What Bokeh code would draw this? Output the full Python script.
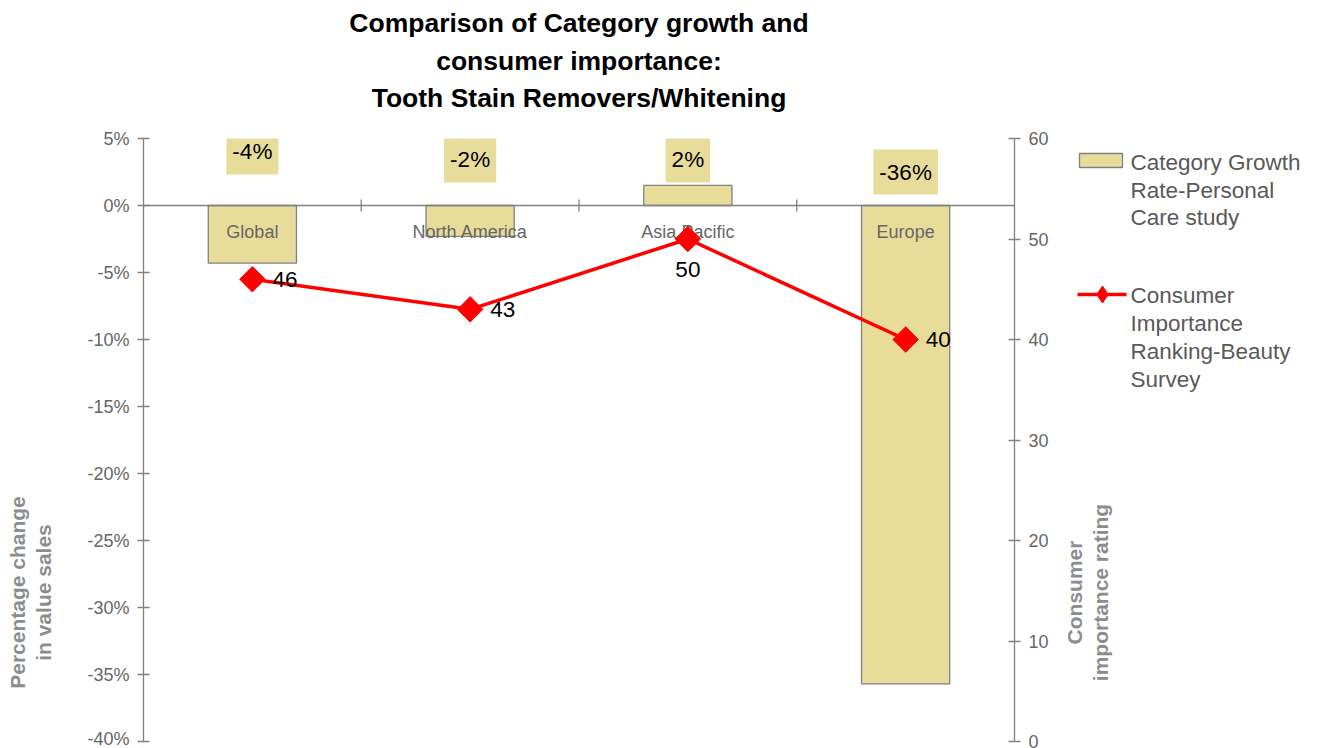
import math
from bokeh.plotting import figure
from bokeh.layouts import row, column
from bokeh.models import (Range1d, LinearAxis, Span, Label, FixedTicker,
                          CustomJSTickFormatter)
from bokeh.embed import file_html
from bokeh.resources import INLINE
from bokeh.core.properties import value

# ---- data ----
categories = ["Global", "North America", "Asia Pacific", "Europe"]
growth = [-4.3, -2.3, 1.5, -35.7]                 # % change in value sales
growth_labels = ["-4%", "-2%", "2%", "-36%"]
importance = [46, 43, 50, 40]                     # consumer importance rating
left_ticks = [-40, -35, -30, -25, -20, -15, -10, -5, 0, 5]
right_ticks = [0, 10, 20, 30, 40, 50, 60]
title_lines = ["Comparison of Category growth and", "consumer importance:",
               "Tooth Stain Removers/Whitening"]
legend_bar = ["Category Growth", "Rate-Personal", "Care study"]
legend_line = ["Consumer", "Importance", "Ranking-Beauty", "Survey"]
left_label = "Percentage change\nin value sales"
right_label = "Consumer\nimportance rating"

# ---- layout / style constants (page pixels) ----
FONT = "Liberation Sans"
BAR = "#E8DC9B"
GREY = "#808080"
TXT = "#666666"
W, H = 1317, 748
TOP_H = 128                      # title strip height
LEFT_W = 60                      # left strip (axis title)
MAIN_W = 994                     # main chart figure
RIGHT_W = W - LEFT_W - MAIN_W    # right strip (axis title + legend)
ROW_H = H - TOP_H
FRAME_L, FRAME_R = 143, 1014
FRAME_T, FRAME_B = 138, 741
growth_label_y = [4.0, 3.4, 3.4, 2.5]             # label box positions (%)
line_label_off = [(20, 0, "left"), (20, 0, "left"), (0, -30, "center"), (20, 0, "left")]


def blank(width, height, x0, x1, y0, y1):
    f = figure(width=width, height=height, x_range=Range1d(x0, x1),
               y_range=Range1d(y1, y0), output_backend="svg", toolbar_location=None,
               x_axis_location=None, y_axis_location=None, title=None,
               min_border=0, outline_line_color=None)
    f.grid.visible = False
    return f


# ---------------- title strip ----------------
pt = blank(W, TOP_H, 0, W, 0, TOP_H)
pt.text(x=[(FRAME_L + FRAME_R) / 2] * 3, y=[22, 60, 97], text=title_lines,
        text_align="center", text_baseline="middle", text_font=value(FONT),
        text_font_size="26.5px", text_font_style="bold", text_color="black")

# ---------------- left strip (frame aligned with the main frame) ----------------
pl = blank(LEFT_W, ROW_H, 0, LEFT_W, FRAME_T, FRAME_B)
pl.text(x=[30], y=[592], text=[left_label], angle=math.pi / 2, text_align="center",
        text_baseline="middle", text_font=value(FONT), text_font_size="21px",
        text_font_style="bold", text_color="#8c8c8c", text_line_height=1.15)

# ---------------- main chart ----------------
xs = [i + 0.5 for i in range(len(categories))]
p = figure(width=MAIN_W, height=ROW_H, x_range=Range1d(0, len(categories)),
           y_range=Range1d(left_ticks[0], left_ticks[-1]),
           output_backend="svg", toolbar_location=None, title=None,
           x_axis_location=None, y_axis_location=None,
           min_border_left=FRAME_L - LEFT_W, min_border_right=LEFT_W + MAIN_W - FRAME_R,
           min_border_top=FRAME_T - TOP_H, min_border_bottom=H - FRAME_B,
           outline_line_color=None)
p.grid.visible = False
p.extra_y_ranges = {"r": Range1d(right_ticks[0], right_ticks[-1])}


def style_axis(ax):
    ax.axis_line_color = GREY
    ax.axis_line_width = 1.3
    ax.major_tick_line_color = GREY
    ax.major_tick_line_width = 1.3
    ax.major_tick_in = 6
    ax.major_tick_out = 6
    ax.minor_tick_line_color = None
    ax.major_label_text_font = FONT
    ax.major_label_text_font_size = "18px"
    ax.major_label_text_color = TXT
    ax.major_label_standoff = 8


yl = LinearAxis(ticker=FixedTicker(ticks=left_ticks),
                formatter=CustomJSTickFormatter(code="return tick + '%';"))
style_axis(yl)
p.add_layout(yl, "left")

yr = LinearAxis(y_range_name="r", ticker=FixedTicker(ticks=right_ticks))
style_axis(yr)
p.add_layout(yr, "right")

p.vbar(x=xs, top=growth, bottom=0, width=0.405, fill_color=BAR,
       line_color=GREY, line_width=1.3)

p.add_layout(Span(location=0, dimension="width", line_color=GREY, line_width=1.3))
sep = [i for i in range(1, len(categories))]
p.segment(x0=sep, y0=[-0.45] * len(sep), x1=sep, y1=[0.45] * len(sep),
          line_color=GREY, line_width=1.3)

p.text(x=xs, y=[-2.0] * len(xs), text=categories, text_align="center",
       text_baseline="middle", text_font=value(FONT), text_font_size="18px",
       text_color=TXT)

p.line(xs, importance, y_range_name="r", line_color="#FF0000", line_width=3.5)
p.scatter(xs, importance, y_range_name="r", marker="square", angle=math.pi / 4,
          size=18, fill_color="#FF0000", line_color="#FF0000")

for x, y, t in zip(xs, growth_label_y, growth_labels):
    p.add_layout(Label(x=x, y=y, text=t, text_align="center", text_baseline="middle",
                       text_font=FONT, text_font_size="22.5px", text_color="black",
                       background_fill_color=BAR, padding=(6, 10)))

for x, v, (dx, dy, al) in zip(xs, importance, line_label_off):
    p.add_layout(Label(x=x, y=v, y_range_name="r", x_offset=dx, y_offset=dy,
                       text=str(v), text_align=al, text_baseline="middle",
                       text_font=FONT, text_font_size="22.5px", text_color="black"))

# ---------------- right strip: axis title + legend ----------------
x0r = LEFT_W + MAIN_W
pr = blank(RIGHT_W, ROW_H, x0r, W, FRAME_T, FRAME_B)
pr.text(x=[1087], y=[592], text=[right_label], angle=math.pi / 2, text_align="center",
        text_baseline="middle", text_font=value(FONT), text_font_size="21px",
        text_font_style="bold", text_color="#8c8c8c", text_line_height=1.15)

# legend swatches
pr.quad(left=[1079], right=[1122], top=[153], bottom=[167], fill_color=BAR,
        line_color=GREY, line_width=1.3)
pr.line(x=[1077, 1126], y=[294, 294], line_color="#FF0000", line_width=3.5)
pr.scatter(x=[1102], y=[294], marker="diamond", size=17, fill_color="#FF0000",
           line_color="#FF0000")
# legend texts
pr.text(x=[1130] * len(legend_bar), y=[162 + 27.5 * i for i in range(len(legend_bar))],
        text=legend_bar, text_align="left", text_baseline="middle",
        text_font=value(FONT), text_font_size="22.5px", text_color="#595959")
pr.text(x=[1130] * len(legend_line), y=[295 + 28 * i for i in range(len(legend_line))],
        text=legend_line, text_align="left", text_baseline="middle",
        text_font=value(FONT), text_font_size="22.5px", text_color="#595959")

layout = column(pt, row(pl, p, pr))
open("out.html", "w").write(file_html(layout, INLINE))
